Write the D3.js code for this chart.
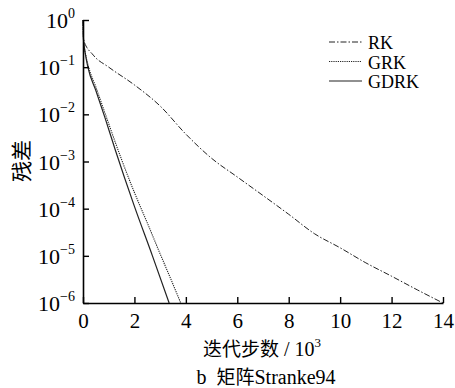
<!DOCTYPE html>
<html>
<head>
<meta charset="utf-8">
<script src="https://cdn.jsdelivr.net/npm/d3@7"></script>
<style>
  body { margin: 0; background: #fff; }
  svg { display: block; }
  text { fill: #000; }
</style>
</head>
<body>
<div id="chart"></div>
<script>
// data (x in 10^3 steps, residual)
const rkX = [0, 0.02, 0.4, 1, 2, 3, 4, 5, 6, 7, 8, 9, 10, 11, 12, 13, 14];
const rkY = [1, 0.38, 0.18, 0.1, 0.042, 0.015, 0.0038, 0.00117, 4.7e-4, 1.9e-4, 7.6e-5, 2.95e-5, 1.48e-5, 7.1e-6, 3.7e-6, 1.9e-6, 1e-6];
const grkX = [0, 0.02, 0.1, 0.22, 0.5, 1, 1.5, 2, 2.5, 3, 3.5, 3.8];
const grkY = [1, 0.4, 0.19, 0.1, 0.038, 6.3e-3, 1.1e-3, 2.2e-4, 5e-5, 1.1e-5, 2.5e-6, 1e-6];
const gdrkX = [0, 0.02, 0.1, 0.19, 0.5, 0.86, 1.25, 2.0, 2.7, 3.35];
const gdrkY = [1, 0.38, 0.18, 0.1, 0.032, 8.3e-3, 1.8e-3, 1.12e-4, 1e-5, 1e-6];
const xTicks = [0, 2, 4, 6, 8, 10, 12, 14];
const yExps = [0, -1, -2, -3, -4, -5, -6];
const legendNames = ['RK', 'GRK', 'GDRK'];

const width = 455, height = 388;
const margin = { top: 20, right: 12, bottom: 85, left: 83 };
const latin = '"Liberation Serif", "DejaVu Serif", serif';
const cjk = '"Noto Sans CJK SC", sans-serif';

const svg = d3.select('#chart').append('svg')
  .attr('width', width)
  .attr('height', height);

const x = d3.scaleLinear().domain([0, 14]).range([margin.left, width - margin.right]);
const y = d3.scaleLog().domain([1e-6, 1]).range([height - margin.bottom, margin.top]);

// series
const series = [
  { xs: rkX, ys: rkY, dash: '6,2,1.5,2', w: 1 },
  { xs: grkX, ys: grkY, dash: '1.2,1', w: 1.1 },
  { xs: gdrkX, ys: gdrkY, dash: null, w: 1.2 }
];
const line = d3.line().x(d => x(d[0])).y(d => y(d[1])).curve(d3.curveMonotoneX);
series.forEach(s => {
  svg.append('path')
    .datum(s.xs.map((v, i) => [v, s.ys[i]]))
    .attr('fill', 'none')
    .attr('stroke', '#222')
    .attr('stroke-width', s.w)
    .attr('stroke-dasharray', s.dash)
    .attr('d', line);
});

// x axis, ticks pointing inward
const xAxis = svg.append('g')
  .attr('transform', `translate(0,${height - margin.bottom})`)
  .call(d3.axisBottom(x).tickValues(xTicks).tickSize(-6).tickPadding(10).tickSizeOuter(0));
xAxis.select('.domain').attr('stroke-width', 1.6);
xAxis.selectAll('.tick line').attr('stroke-width', 1.4);
xAxis.selectAll('.tick text').attr('font-family', latin).attr('font-size', 21);

// y axis
const yAxis = svg.append('g')
  .attr('transform', `translate(${margin.left},0)`)
  .call(d3.axisLeft(y).tickValues(yExps.map(e => Math.pow(10, e))).tickSize(-6).tickFormat('').tickSizeOuter(0));
yAxis.select('.domain').attr('stroke-width', 1.6);
yAxis.selectAll('.tick line').attr('stroke-width', 1.4);

// y tick labels as 10 with superscript
yExps.forEach(e => {
  const t = svg.append('text')
    .attr('x', margin.left - 8)
    .attr('y', y(Math.pow(10, e)) + 8)
    .attr('text-anchor', 'end')
    .attr('font-family', latin)
    .attr('font-size', 22);
  t.append('tspan').text('10');
  t.append('tspan').attr('dy', -10).attr('font-size', 14).text(e === 0 ? '0' : '\u2212' + Math.abs(e));
});

// axis titles
svg.append('text')
  .attr('transform', `translate(29,161) rotate(-90)`)
  .attr('text-anchor', 'middle')
  .attr('font-family', cjk)
  .attr('font-size', 21)
  .text('残差');

const xt = svg.append('text')
  .attr('x', 262)
  .attr('y', 356)
  .attr('text-anchor', 'middle')
  .attr('font-family', cjk)
  .attr('font-size', 19);
xt.append('tspan').text('迭代步数');
xt.append('tspan').attr('font-family', latin).attr('font-size', 20).text(' / 10');
xt.append('tspan').attr('font-family', latin).attr('font-size', 13).attr('dy', -9).text('3');

const cap = svg.append('text')
  .attr('x', 266)
  .attr('y', 384)
  .attr('text-anchor', 'middle')
  .attr('font-size', 19);
cap.append('tspan').attr('font-family', latin).attr('font-size', 20).text('b\u00a0\u00a0');
cap.append('tspan').attr('font-family', cjk).text('矩阵');
cap.append('tspan').attr('font-family', latin).attr('font-size', 20).text('Stranke94');

// legend
const lg = svg.append('g');
legendNames.forEach((name, i) => {
  const ly = 43 + i * 19.5;
  lg.append('line')
    .attr('x1', 329).attr('x2', 362)
    .attr('y1', ly - 1).attr('y2', ly - 1)
    .attr('stroke', '#222')
    .attr('stroke-width', series[i].w)
    .attr('stroke-dasharray', series[i].dash);
  lg.append('text')
    .attr('x', 368)
    .attr('y', ly + 6)
    .attr('font-family', latin)
    .attr('font-size', 18)
    .text(name);
});
</script>
</body>
</html>
